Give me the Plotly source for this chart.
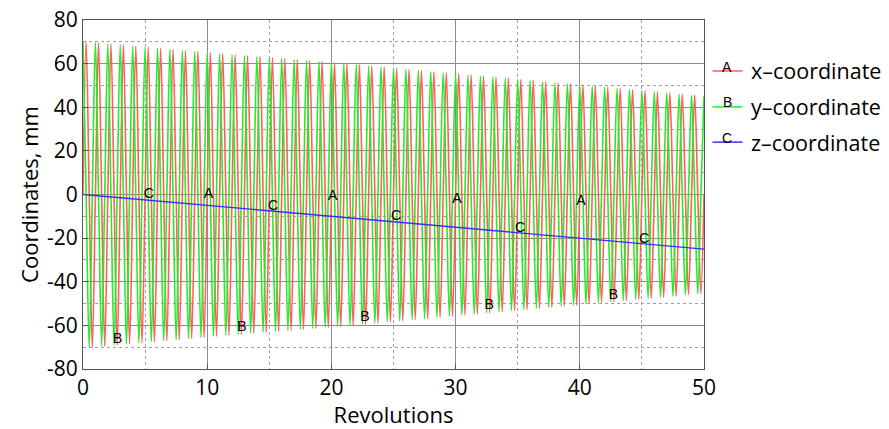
import plotly.graph_objects as go

# ---- data ----
revolutions = list(range(0, 51))
# oscillation envelope (peak amplitude, mm) at each whole revolution
amplitude_mm = [70.0, 69.5, 69.0, 68.5, 68.0, 67.5, 67.0, 66.5, 66.0, 65.5,
                65.0, 64.5, 64.1, 63.6, 63.2, 62.7, 62.3, 61.8, 61.4, 60.9,
                60.5, 60.0, 59.5, 58.9, 58.4, 57.9, 57.4, 56.9, 56.3, 55.8,
                55.3, 54.8, 54.3, 53.8, 53.3, 52.8, 52.2, 51.7, 51.2, 50.7,
                50.2, 49.7, 49.2, 48.6, 48.1, 47.6, 47.1, 46.6, 46.0, 45.5,
                45.0]
# quarter-revolution pattern of each coordinate (fraction of envelope)
x_quarter_pattern = [0, 1, 0, -1]   # x: zero, peak, zero, trough
y_quarter_pattern = [1, 0, -1, 0]   # y: peak, zero, trough, zero
z_revs = [0, 50]
z_vals = [0.0, -25.0]

# letter markers (position)
a_rev = [10.1, 20.1, 30.1, 40.1, 50.1]
a_val = [0.2, -1.1, -2.1, -3.0, -0.7]
b_rev = [2.8, 12.8, 22.7, 32.7, 42.7]
b_val = [-66.3, -61.2, -56.2, -51.1, -46.1]
c_rev = [5.3, 15.3, 25.2, 35.2, 45.2]
c_val = [-0.2, -5.3, -10.3, -15.4, -20.4]

y_tickvals = [-80, -60, -40, -20, 0, 20, 40, 60, 80]
y_ticktext = ["-80", "-60", "-40", "-20", "0", "20", "40", "60", "80"]
x_tickvals = [0, 10, 20, 30, 40, 50]
x_ticktext = ["0", "10", "20", "30", "40", "50"]

legend_names = ["x\u2013coordinate", "y\u2013coordinate", "z\u2013coordinate"]
legend_letters = ["A", "B", "C"]
colors = ["rgb(255,95,95)", "rgb(40,235,40)", "rgb(50,50,255)"]

# build the quarter-revolution sample points
t_pts, x_pts, y_pts = [], [], []
for k in revolutions[:-1]:
    for q in range(4):
        t_pts.append(k + q / 4)
        x_pts.append(amplitude_mm[k] * x_quarter_pattern[q])
        y_pts.append(amplitude_mm[k] * y_quarter_pattern[q])
t_pts.append(revolutions[-1])
x_pts.append(amplitude_mm[-1] * x_quarter_pattern[0])
y_pts.append(amplitude_mm[-1] * y_quarter_pattern[0])

fig = go.Figure()
fig.add_trace(go.Scatter(x=t_pts, y=x_pts, mode="lines", name=legend_names[0],
                         line=dict(color=colors[0], width=1.6, shape="spline", smoothing=1)))
fig.add_trace(go.Scatter(x=t_pts, y=y_pts, mode="lines", name=legend_names[1],
                         line=dict(color=colors[1], width=1.6, shape="spline", smoothing=1)))
fig.add_trace(go.Scatter(x=z_revs, y=z_vals, mode="lines", name=legend_names[2],
                         line=dict(color=colors[2], width=1.3)))

lf = dict(family="Liberation Sans", size=14, color="black")
for rv, vv, letter in [(a_rev, a_val, "A"), (b_rev, b_val, "B"), (c_rev, c_val, "C")]:
    fig.add_trace(go.Scatter(x=rv, y=vv, mode="text", text=[letter] * len(rv),
                             textfont=lf, showlegend=False, cliponaxis=False,
                             hoverinfo="skip"))

# manual legend
ly = [0.854, 0.751, 0.650]
for i in range(3):
    fig.add_shape(type="line", xref="paper", yref="paper",
                  x0=1.0137, x1=1.062, y0=ly[i], y1=ly[i],
                  line=dict(color=colors[i], width=1.5))
    fig.add_annotation(xref="paper", yref="paper", x=1.0378, y=ly[i] - 0.016,
                       text=legend_letters[i], showarrow=False,
                       font=dict(family="Liberation Sans", size=14, color="black"),
                       yanchor="bottom", xanchor="center")
    fig.add_annotation(xref="paper", yref="paper", x=1.0732, y=ly[i],
                       text=legend_names[i], showarrow=False,
                       font=dict(family="Open Sans", size=21.5, color="black"),
                       xanchor="left", yanchor="middle")

axis_common = dict(showline=True, linecolor="#555555", linewidth=1, mirror=True,
                   ticks="inside", ticklen=5, tickcolor="#555555",
                   showgrid=True, gridcolor="#8c8c8c", gridwidth=1,
                   zeroline=False, automargin=False,
                   tickfont=dict(family="Open Sans", size=21, color="black"),
                   title_font=dict(family="Open Sans", size=22, color="black"))

fig.update_xaxes(range=[0, 50], tickmode="array", tickvals=x_tickvals, ticktext=x_ticktext,
                 title_text="Revolutions", title_standoff=0,
                 minor=dict(dtick=5, tick0=0, showgrid=True, griddash="dot",
                            gridcolor="#a0a0a0", ticks=""),
                 **axis_common)
fig.update_yaxes(range=[-80, 80], tickmode="array", tickvals=y_tickvals, ticktext=y_ticktext,
                 title_text="Coordinates, mm", title_standoff=2,
                 minor=dict(dtick=10, tick0=0, showgrid=True, griddash="dot",
                            gridcolor="#a0a0a0", ticks=""),
                 **axis_common)

fig.update_layout(width=889, height=429, showlegend=False,
                  margin=dict(l=82.5, r=184.5, t=20, b=60),
                  plot_bgcolor="white", paper_bgcolor="white")

fig.write_html("out.html", config={"displayModeBar": False},
               post_script="document.body.style.margin='0';document.body.style.overflow='hidden';")
